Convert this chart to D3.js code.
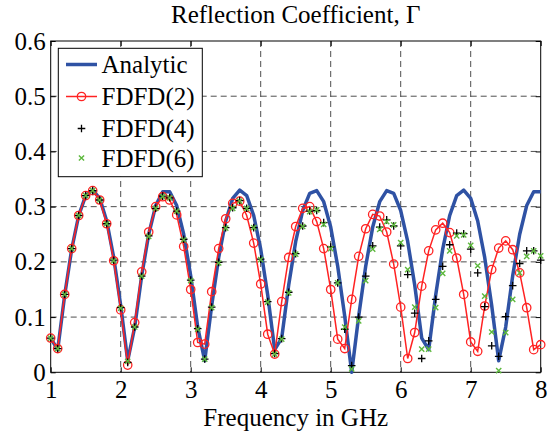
<!DOCTYPE html>
<html><head><meta charset="utf-8">
<script src="https://cdn.jsdelivr.net/npm/d3@7"></script>
<style>
body{margin:0;background:#fff}
svg{display:block}
text{font-family:"Liberation Serif","Times New Roman",Times,"Nimbus Roman","DejaVu Serif",serif;fill:#000}
</style>
</head><body>
<svg id="chart" width="552" height="434"></svg>
<script>
const freqGHz = [1.0,1.1,1.2,1.3,1.4,1.5,1.6,1.7,1.8,1.9,
  2.0,2.1,2.2,2.3,2.4,2.5,2.6,2.7,2.8,2.9,
  3.0,3.1,3.2,3.3,3.4,3.5,3.6,3.7,3.8,3.9,
  4.0,4.1,4.2,4.3,4.4,4.5,4.6,4.7,4.8,4.9,
  5.0,5.1,5.2,5.3,5.4,5.5,5.6,5.7,5.8,5.9,
  6.0,6.1,6.2,6.3,6.4,6.5,6.6,6.7,6.8,6.9,
  7.0,7.1,7.2,7.3,7.4,7.5,7.6,7.7,7.8,7.9,
  8.0];
const analytic = [0.062,0.041,0.140,0.223,0.284,0.320,0.330,0.315,0.274,0.208,
  0.121,0.021,0.082,0.175,0.250,0.302,0.327,0.327,0.302,0.250,
  0.175,0.082,0.021,0.121,0.208,0.274,0.315,0.330,0.320,0.284,
  0.223,0.140,0.041,0.062,0.158,0.237,0.293,0.324,0.329,0.309,
  0.263,0.192,0.102,0.000,0.102,0.192,0.263,0.309,0.329,0.324,
  0.293,0.237,0.158,0.062,0.041,0.140,0.223,0.284,0.320,0.330,
  0.315,0.274,0.208,0.121,0.021,0.082,0.175,0.250,0.302,0.327,
  0.327];
const fdfd2 = [0.062,0.043,0.141,0.224,0.284,0.320,0.329,0.312,0.269,0.202,
  0.113,0.013,0.090,0.182,0.254,0.300,0.318,0.312,0.285,0.228,
  0.150,0.054,0.051,0.146,0.224,0.278,0.306,0.310,0.284,0.234,
  0.160,0.069,0.033,0.128,0.208,0.264,0.297,0.300,0.273,0.224,
  0.150,0.060,0.043,0.132,0.210,0.260,0.286,0.283,0.254,0.196,
  0.118,0.025,0.072,0.156,0.220,0.258,0.270,0.253,0.207,0.141,
  0.055,0.038,0.120,0.186,0.225,0.238,0.222,0.180,0.117,0.041,
  0.050];
const fdfd4 = [0.062,0.043,0.141,0.224,0.284,0.320,0.329,0.312,0.269,0.203,
  0.117,0.018,0.082,0.174,0.247,0.297,0.319,0.316,0.292,0.241,
  0.167,0.079,0.024,0.118,0.199,0.262,0.298,0.311,0.297,0.262,
  0.205,0.128,0.034,0.061,0.145,0.215,0.265,0.292,0.293,0.271,
  0.227,0.162,0.078,0.012,0.100,0.174,0.229,0.263,0.276,0.265,
  0.229,0.177,0.107,0.025,0.057,0.132,0.192,0.231,0.252,0.251,
  0.223,0.180,0.119,0.048,0.029,0.101,0.157,0.197,0.220,0.220,
  0.203];
const fdfd6 = [0.062,0.043,0.141,0.224,0.284,0.320,0.329,0.312,0.269,0.202,
  0.116,0.020,0.082,0.174,0.246,0.297,0.318,0.316,0.292,0.240,
  0.166,0.078,0.024,0.117,0.198,0.261,0.297,0.310,0.297,0.262,
  0.204,0.127,0.033,0.060,0.144,0.214,0.264,0.291,0.294,0.268,
  0.224,0.162,0.082,0.006,0.093,0.166,0.223,0.259,0.273,0.267,
  0.235,0.186,0.118,0.042,0.042,0.117,0.179,0.220,0.247,0.249,
  0.230,0.193,0.138,0.073,0.003,0.072,0.132,0.180,0.210,0.220,
  0.211];
const xTicks = [1,2,3,4,5,6,7,8];
const yTicks = [0,0.1,0.2,0.3,0.4,0.5,0.6];
const yTickLabels = ["0","0.1","0.2","0.3","0.4","0.5","0.6"];
const legendLabels = ["Analytic","FDFD(2)","FDFD(4)","FDFD(6)"];
const titleText = "Reflection Coefficient, \u0393";
const xLabelText = "Frequency in GHz";

const FONT = '"Liberation Serif","Times New Roman",Times,"Nimbus Roman","DejaVu Serif",serif';
const C_BLUE = "#2f52a4", C_RED = "#ff2222", C_BLACK = "#000", C_GREEN = "#5cb83c";
const L = 50.7, R = 540.7, T = 41, B = 372.3;
const svg = d3.select("#chart");
const x = d3.scaleLinear().domain([1, 8]).range([L, R]);
const y = d3.scaleLinear().domain([0, 0.6]).range([B, T]);

// grid
const grid = svg.append("g").attr("stroke", "#222").attr("stroke-width", 0.8).attr("stroke-dasharray", "6,4");
grid.selectAll("line.v").data(xTicks.slice(1, -1)).enter().append("line")
  .attr("x1", d => x(d)).attr("x2", d => x(d)).attr("y1", T).attr("y2", B);
grid.selectAll("line.h").data(yTicks.slice(1, -1)).enter().append("line")
  .attr("x1", L).attr("x2", R).attr("y1", d => y(d)).attr("y2", d => y(d));

// axes with inward ticks
const ax = svg.append("g").attr("transform", `translate(0,${B})`)
  .call(d3.axisBottom(x).tickValues(xTicks).tickFormat(d3.format("d")).tickSize(-5).tickSizeOuter(0).tickPadding(8));
const axT = svg.append("g").attr("transform", `translate(0,${T})`)
  .call(d3.axisTop(x).tickValues(xTicks).tickFormat("").tickSize(-5).tickSizeOuter(0));
const ay = svg.append("g").attr("transform", `translate(${L},0)`)
  .call(d3.axisLeft(y).tickValues(yTicks).tickFormat((d, i) => yTickLabels[i]).tickSize(-5).tickSizeOuter(0).tickPadding(5));
const ayR = svg.append("g").attr("transform", `translate(${R},0)`)
  .call(d3.axisRight(y).tickValues(yTicks).tickFormat("").tickSize(-5).tickSizeOuter(0));
[ax, axT, ay, ayR].forEach(g => {
  g.attr("font-family", FONT).attr("font-size", 25);
  g.select(".domain").remove();
  g.selectAll("line").attr("stroke", "#000").attr("stroke-width", 1);
  g.selectAll("text").attr("font-family", FONT).attr("font-size", 25).attr("fill", "#000");
});

// frame
svg.append("rect").attr("x", L).attr("y", T).attr("width", R - L).attr("height", B - T)
  .attr("fill", "none").attr("stroke", "#000").attr("stroke-width", 1);

const plot = svg.append("g");
const line = d3.line().x((d, i) => x(freqGHz[i])).y(d => y(d));
plot.append("path").datum(analytic).attr("d", line).attr("fill", "none")
  .attr("stroke", C_BLUE).attr("stroke-width", 3.5).attr("stroke-linejoin", "round");
plot.append("path").datum(fdfd2).attr("d", line).attr("fill", "none")
  .attr("stroke", C_RED).attr("stroke-width", 1.5);
plot.selectAll("circle.f2").data(fdfd2).enter().append("circle")
  .attr("cx", (d, i) => x(freqGHz[i])).attr("cy", d => y(d)).attr("r", 4.2)
  .attr("fill", "none").attr("stroke", C_RED).attr("stroke-width", 1.3);

function plus(g, cx, cy, s, color, w) {
  g.append("path").attr("d", `M${cx - s},${cy}H${cx + s}M${cx},${cy - s}V${cy + s}`)
    .attr("stroke", color).attr("stroke-width", w).attr("fill", "none");
}
function cross(g, cx, cy, s, color, w) {
  g.append("path").attr("d", `M${cx - s},${cy - s}L${cx + s},${cy + s}M${cx - s},${cy + s}L${cx + s},${cy - s}`)
    .attr("stroke", color).attr("stroke-width", w).attr("fill", "none");
}
fdfd4.forEach((d, i) => plus(plot, x(freqGHz[i]), y(d), 3.8, C_BLACK, 1.3));
fdfd6.forEach((d, i) => cross(plot, x(freqGHz[i]), y(d), 2.6, C_GREEN, 1.4));

// legend
const lg = svg.append("g");
lg.append("rect").attr("x", 58.3).attr("y", 48.3).attr("width", 144).attr("height", 128.4)
  .attr("fill", "#fff").attr("stroke", "#000").attr("stroke-width", 1);
const rows = [64.5, 96.5, 128.5, 158];
const lx1 = 66, lx2 = 97, lmid = 81.5;
lg.append("line").attr("x1", lx1).attr("x2", lx2).attr("y1", rows[0]).attr("y2", rows[0])
  .attr("stroke", C_BLUE).attr("stroke-width", 3.5);
lg.append("line").attr("x1", lx1).attr("x2", lx2).attr("y1", rows[1]).attr("y2", rows[1])
  .attr("stroke", C_RED).attr("stroke-width", 1.5);
lg.append("circle").attr("cx", lmid).attr("cy", rows[1]).attr("r", 4.2)
  .attr("fill", "none").attr("stroke", C_RED).attr("stroke-width", 1.3);
plus(lg, lmid, rows[2], 3.8, C_BLACK, 1.3);
cross(lg, lmid, rows[3], 2.6, C_GREEN, 1.4);
legendLabels.forEach((t, i) => {
  lg.append("text").attr("x", 101.5).attr("y", rows[i] + 8.5)
    .attr("font-family", FONT).attr("font-size", 25).text(t);
});

// title and x label
svg.append("text").attr("x", (L + R) / 2).attr("y", 23).attr("text-anchor", "middle")
  .attr("font-family", FONT).attr("font-size", 25).text(titleText);
svg.append("text").attr("x", (L + R) / 2).attr("y", 426).attr("text-anchor", "middle")
  .attr("font-family", FONT).attr("font-size", 25).text(xLabelText);
</script>
</body></html>
